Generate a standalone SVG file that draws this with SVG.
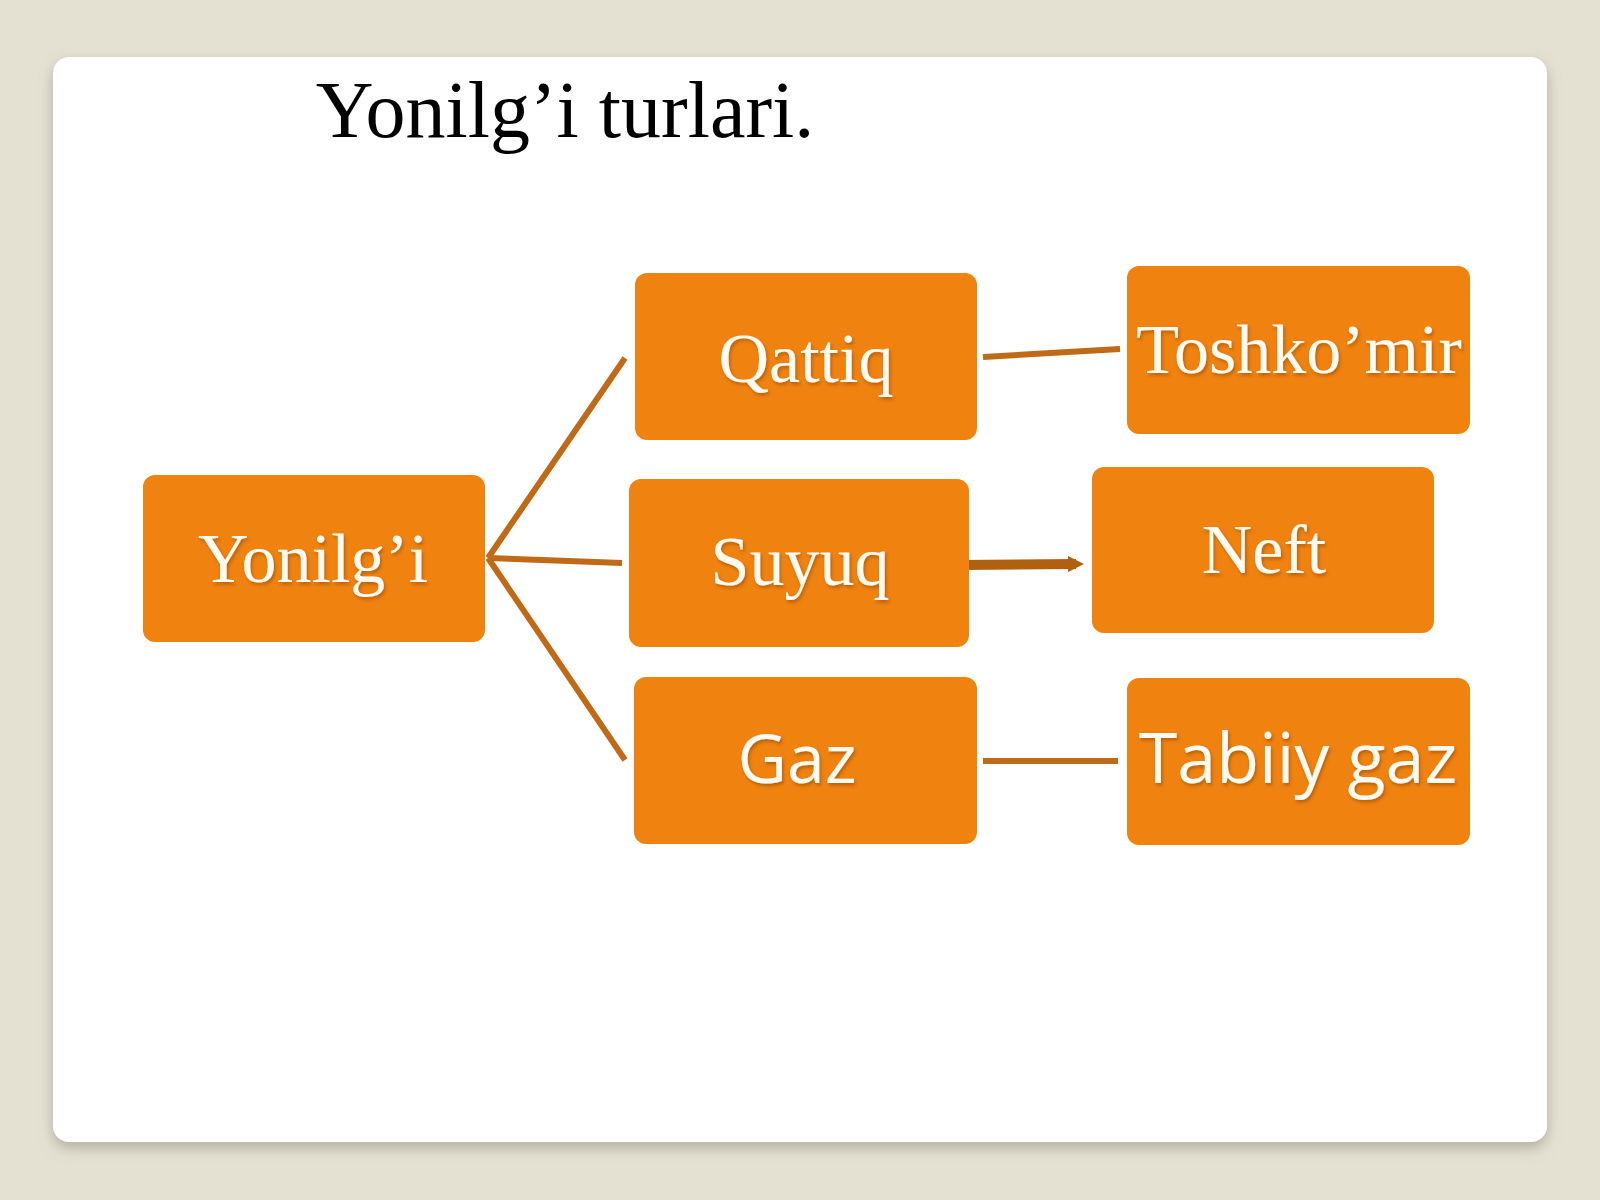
<svg xmlns="http://www.w3.org/2000/svg" width="1600" height="1200" viewBox="0 0 1600 1200">
<defs>
<filter id="cardShadow" x="-5%" y="-5%" width="110%" height="115%">
<feDropShadow dx="0" dy="6" stdDeviation="7" flood-color="#8a8678" flood-opacity="0.55"/>
</filter>
<filter id="txtShadow" x="-10%" y="-20%" width="120%" height="150%">
<feDropShadow dx="1.5" dy="2.5" stdDeviation="1.5" flood-color="#7a3a00" flood-opacity="0.45"/>
</filter>
<marker id="arrowHead" viewBox="0 0 10 10" refX="5" refY="5" markerWidth="1.6" markerHeight="1.6" orient="auto" markerUnits="strokeWidth">
<path d="M0,0 L10,5 L0,10 z" fill="#b0600f"/>
</marker>
</defs>
<style>
.node rect { fill: #f0820f; }
.serif { font-family: "Liberation Serif", "Times New Roman", serif; fill: #fffaf2; text-anchor: middle; }
.sans { font-family: "Open Sans", "Noto Sans", sans-serif; fill: #fffaf2; text-anchor: middle; }
.conn { stroke: #c06a18; stroke-width: 6; fill: none; stroke-linecap: butt; }
</style>
<rect x="0" y="0" width="1600" height="1200" fill="#e4e1d3"/>
<rect x="53" y="57" width="1494" height="1085" rx="16" ry="16" fill="#ffffff" filter="url(#cardShadow)"/>
<text x="565" y="137" font-family="Liberation Serif, Times New Roman, serif" font-size="80" fill="#000000" text-anchor="middle">Yonilg’i turlari.</text>

<g id="connectors">
<line class="conn" x1="488" y1="558" x2="625" y2="358"/>
<line class="conn" x1="488" y1="558" x2="622" y2="563"/>
<line class="conn" x1="488" y1="558" x2="625" y2="760"/>
<line class="conn" x1="983" y1="357" x2="1120" y2="349"/>
<line class="conn" x1="983" y1="761" x2="1118" y2="761"/>
<line x1="960" y1="565" x2="1076" y2="564" stroke="#b0600f" stroke-width="10" marker-end="url(#arrowHead)"/>
</g>

<g id="node-yonilgi" class="node">
<rect x="143" y="475" width="342" height="167" rx="12" ry="12"/>
<text class="serif" x="313" y="582" font-size="70" filter="url(#txtShadow)">Yonilg’i</text>
</g>
<g id="node-qattiq" class="node">
<rect x="635" y="273" width="342" height="167" rx="12" ry="12"/>
<text class="serif" x="806" y="382" font-size="70" filter="url(#txtShadow)">Qattiq</text>
</g>
<g id="node-suyuq" class="node">
<rect x="629" y="479" width="340" height="168" rx="12" ry="12"/>
<text class="serif" x="800" y="585" font-size="70" filter="url(#txtShadow)">Suyuq</text>
</g>
<g id="node-gaz" class="node">
<rect x="634" y="677" width="343" height="167" rx="12" ry="12"/>
<text class="sans" x="797" y="783" font-size="68" filter="url(#txtShadow)">Gaz</text>
</g>
<g id="node-toshkomir" class="node">
<rect x="1127" y="266" width="343" height="168" rx="12" ry="12"/>
<text class="serif" x="1299" y="373" font-size="70" filter="url(#txtShadow)">Toshko’mir</text>
</g>
<g id="node-neft" class="node">
<rect x="1092" y="467" width="342" height="166" rx="12" ry="12"/>
<text class="serif" x="1264" y="573" font-size="70" filter="url(#txtShadow)">Neft</text>
</g>
<g id="node-tabiiy-gaz" class="node">
<rect x="1127" y="678" width="343" height="167" rx="12" ry="12"/>
<text class="sans" x="1298" y="783" font-size="70" filter="url(#txtShadow)">Tabiiy gaz</text>
</g>
</svg>
